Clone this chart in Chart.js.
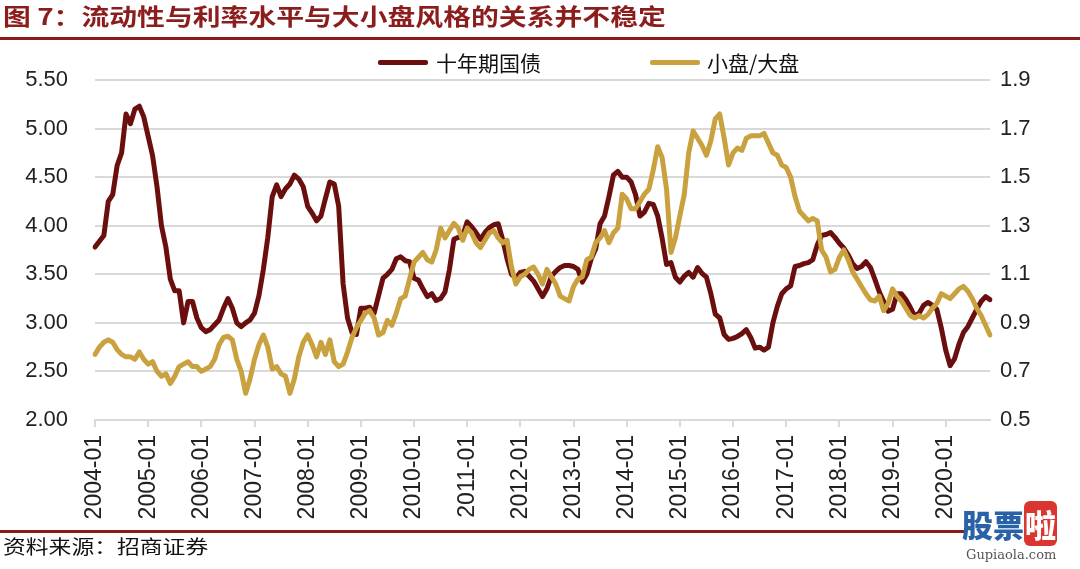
<!DOCTYPE html>
<html>
<head>
<meta charset="utf-8">
<script src="https://cdn.jsdelivr.net/npm/chart.js@4.4.1/dist/chart.umd.min.js"></script>
<style>
  html, body { margin:0; padding:0; background:#fff; }
  #wrap { position:relative; width:1080px; height:569px; overflow:hidden; background:#fff; }
  #c { position:absolute; left:0; top:0; }
  .title { position:absolute; left:3px; top:2px; font-family:"Noto Sans CJK SC","Noto Sans",sans-serif; font-weight:700; font-size:23px; line-height:26px; color:#8c1d1d; white-space:nowrap; transform:scaleX(1.21); transform-origin:left top; }
  .rule { position:absolute; background:#8a1b1b; }
  .leg-bar { position:absolute; height:5px; width:50px; border-radius:2px; }
  .leg-txt { position:absolute; font-family:"Noto Sans CJK SC","Noto Sans",sans-serif; font-size:21px; line-height:24px; color:#111; white-space:nowrap; }
  .src { position:absolute; left:3px; top:535px; font-family:"Noto Sans CJK SC",sans-serif; font-size:19px; line-height:22px; color:#111; white-space:nowrap; transform:scaleX(1.2); transform-origin:left top; }
  .wm1 { position:absolute; left:962px; top:506px; font-family:"Noto Sans CJK SC",sans-serif; font-weight:900; font-size:31px; line-height:36px; color:#2a62a8; white-space:nowrap; }
  .wm1 span { background:#d9362f; color:#fff; border-radius:6px; padding:0 1px; }
  .wm2 { position:absolute; left:966px; top:547px; font-family:"DejaVu Serif","Liberation Serif",serif; font-size:13px; line-height:16px; color:#555; white-space:nowrap; }
</style>
</head>
<body>
<div id="wrap">
  <canvas id="c" width="1080" height="569"></canvas>
  <div class="title">图 7：流动性与利率水平与大小盘风格的关系并不稳定</div>
  <div class="rule" style="left:0;top:37px;width:1080px;height:3px;"></div>
  <div class="leg-bar" id="lb1" style="left:378px;top:60px;"></div>
  <div class="leg-txt" id="lt1" style="left:436px;top:50px;"></div>
  <div class="leg-bar" id="lb2" style="left:650px;top:60px;"></div>
  <div class="leg-txt" id="lt2" style="left:707px;top:50px;"></div>
  <div class="rule" style="left:0;top:530px;width:966px;height:3px;"></div>
  <div class="src">资料来源：招商证券</div>
  <div class="wm1">股票<span>啦</span></div>
  <div class="wm2">Gupiaola.com</div>
</div>
<script>
// ---- data ----
const seriesNames = ["十年期国债", "小盘/大盘"];
const startYear = 2004, endYear = 2020, endMonth = 11;
const months = [];
for (let y = startYear; y <= endYear; y++) {
  for (let m = 1; m <= 12; m++) {
    if (y === endYear && m > endMonth) break;
    months.push(y + "-" + (m < 10 ? "0" + m : "" + m));
  }
}
// 十年期国债收益率 (left axis, %)
const bondYield = [
3.78,3.84,3.90,4.25,4.32,4.62,4.75,5.15,5.05,5.20,
5.23,5.12,4.92,4.72,4.40,4.00,3.78,3.45,3.33,3.33,
3.00,3.22,3.22,3.05,2.95,2.91,2.93,2.98,3.03,3.15,
3.25,3.15,3.00,2.96,3.00,3.03,3.10,3.28,3.55,3.88,
4.30,4.42,4.30,4.38,4.43,4.52,4.48,4.40,4.20,4.13,
4.05,4.10,4.28,4.45,4.43,4.20,3.40,3.05,2.90,2.88,
3.15,3.15,3.16,3.10,3.28,3.46,3.50,3.55,3.66,3.68,
3.64,3.63,3.46,3.44,3.35,3.27,3.30,3.23,3.25,3.32,
3.55,3.86,3.88,3.90,4.04,3.99,3.93,3.86,3.93,3.98,
4.01,4.02,3.86,3.66,3.50,3.46,3.52,3.53,3.48,3.43,
3.35,3.27,3.35,3.48,3.53,3.57,3.59,3.59,3.58,3.55,
3.42,3.50,3.66,3.76,4.02,4.10,4.30,4.52,4.56,4.50,
4.50,4.45,4.32,4.10,4.14,4.23,4.22,4.10,3.87,3.60,
3.62,3.47,3.42,3.48,3.52,3.47,3.57,3.51,3.47,3.30,
3.09,3.05,2.88,2.83,2.84,2.86,2.89,2.93,2.85,2.74,
2.75,2.72,2.75,3.00,3.17,3.30,3.35,3.38,3.58,3.59,
3.61,3.62,3.65,3.80,3.90,3.91,3.93,3.88,3.82,3.77,
3.70,3.61,3.56,3.58,3.63,3.57,3.45,3.32,3.22,3.12,
3.14,3.30,3.30,3.24,3.16,3.07,3.10,3.18,3.21,3.18,
3.14,2.95,2.72,2.56,2.63,2.78,2.90,2.96,3.05,3.14,
3.22,3.27,3.24
];
// 小盘/大盘 (right axis)
const smallLargeRatio = [
0.77,0.80,0.82,0.83,0.82,0.79,0.77,0.76,0.76,0.75,
0.78,0.75,0.73,0.74,0.70,0.68,0.69,0.65,0.68,0.72,
0.73,0.74,0.72,0.72,0.70,0.71,0.72,0.75,0.81,0.84,
0.845,0.83,0.75,0.70,0.61,0.67,0.75,0.81,0.85,0.80,
0.71,0.72,0.69,0.68,0.61,0.67,0.76,0.82,0.85,0.81,
0.76,0.82,0.77,0.83,0.74,0.72,0.73,0.78,0.84,0.88,
0.91,0.94,0.95,0.92,0.85,0.86,0.91,0.89,0.94,1.00,
1.01,1.08,1.15,1.17,1.19,1.16,1.15,1.20,1.29,1.25,
1.28,1.31,1.29,1.24,1.29,1.27,1.23,1.21,1.24,1.27,
1.28,1.25,1.23,1.24,1.13,1.06,1.09,1.10,1.12,1.13,
1.10,1.06,1.12,1.09,1.06,1.01,1.00,0.99,1.05,1.08,
1.09,1.16,1.17,1.23,1.25,1.28,1.23,1.27,1.29,1.43,
1.41,1.37,1.37,1.40,1.43,1.45,1.53,1.625,1.58,1.45,
1.19,1.25,1.34,1.43,1.60,1.69,1.66,1.63,1.59,1.65,
1.74,1.76,1.66,1.55,1.60,1.62,1.61,1.66,1.67,1.67,
1.67,1.68,1.64,1.60,1.59,1.55,1.54,1.50,1.42,1.36,
1.34,1.32,1.33,1.32,1.20,1.17,1.11,1.12,1.17,1.20,
1.16,1.11,1.08,1.05,1.02,0.995,0.99,1.01,0.95,0.98,
1.04,1.01,0.99,0.96,0.93,0.92,0.93,0.92,0.935,0.96,
0.98,1.02,1.01,1.00,1.02,1.04,1.05,1.03,1.00,0.96,
0.93,0.89,0.85
];
const leftTicks = [2.00, 2.50, 3.00, 3.50, 4.00, 4.50, 5.00, 5.50];
const rightTicks = [0.5, 0.7, 0.9, 1.1, 1.3, 1.5, 1.7, 1.9];

// ---- style ----
const bondColor = "#6b0e0e";
const ratioColor = "#c9a13f";
const gridColor = "#d9d9d9";
const tickFont = { family: "'Liberation Sans', Arial, sans-serif", size: 22 };
const xTickFont = { family: "'Liberation Sans', Arial, sans-serif", size: 23 };

document.getElementById("lb1").style.background = bondColor;
document.getElementById("lb2").style.background = ratioColor;
document.getElementById("lt1").textContent = seriesNames[0];
document.getElementById("lt2").textContent = seriesNames[1];

new Chart(document.getElementById("c"), {
  type: "line",
  data: {
    labels: months,
    datasets: [
      { label: seriesNames[0], data: bondYield, yAxisID: "y", borderColor: bondColor, backgroundColor: bondColor,
        borderWidth: 5, pointRadius: 0, tension: 0, fill: false, order: 2, borderJoinStyle: "round", borderCapStyle: "round" },
      { label: seriesNames[1], data: smallLargeRatio, yAxisID: "y1", borderColor: ratioColor, backgroundColor: ratioColor,
        borderWidth: 5, pointRadius: 0, tension: 0, fill: false, order: 1, borderJoinStyle: "round", borderCapStyle: "round" }
    ]
  },
  options: {
    responsive: false,
    animation: false,
    devicePixelRatio: 1,
    layout: { padding: { left: 0, right: 0, top: 80, bottom: 0 } },
    plugins: { legend: { display: false }, title: { display: false }, tooltip: { enabled: false } },
    scales: {
      x: {
        type: "category",
        offset: false,
        grid: { drawOnChartArea: false, drawTicks: true, tickLength: 7, color: gridColor, lineWidth: 2 },
        border: { display: true, color: gridColor, width: 2 },
        ticks: {
          autoSkip: false, maxRotation: 90, minRotation: 90, padding: 8, color: "#222", font: xTickFont,
          callback: function (v) { const l = this.getLabelForValue(v); return l.endsWith("-01") ? l : null; }
        },
        afterFit: function (s) { s.height = 149; }
      },
      y: {
        position: "left", min: leftTicks[0], max: leftTicks[leftTicks.length - 1],
        afterBuildTicks: function (s) { s.ticks = leftTicks.map(v => ({ value: v })); },
        ticks: { padding: 27, color: "#222", font: tickFont, callback: v => Number(v).toFixed(2) },
        grid: { color: gridColor, lineWidth: 2, drawTicks: false },
        border: { display: false },
        afterFit: function (s) { s.width = 95; }
      },
      y1: {
        position: "right", min: rightTicks[0], max: rightTicks[rightTicks.length - 1],
        afterBuildTicks: function (s) { s.ticks = rightTicks.map(v => ({ value: v })); },
        ticks: { padding: 10, color: "#222", font: tickFont, callback: v => Number(v).toFixed(1) },
        grid: { display: false, drawTicks: false },
        border: { display: false },
        afterFit: function (s) { s.width = 90; }
      }
    }
  }
});
</script>
</body>
</html>
